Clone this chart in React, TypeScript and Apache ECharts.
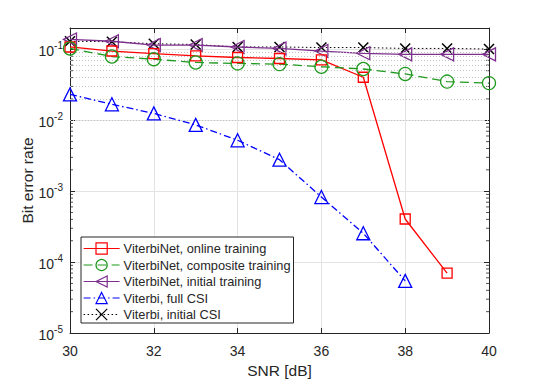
import React, { useEffect, useRef } from "react";
import * as echarts from "echarts";

const snr = [30, 31, 32, 33, 34, 35, 36, 37, 38, 39, 40];
const onlineTraining = [0.108, 0.0947, 0.0872, 0.0807, 0.0767, 0.0743, 0.071, 0.0404, 4.05e-4, 6.97e-5];
const compositeTraining = [0.103, 0.0792, 0.0726, 0.0653, 0.0633, 0.0619, 0.0568, 0.0528, 0.045, 0.0351, 0.0334];
const initialTraining = [0.138, 0.13, 0.115, 0.115, 0.108, 0.103, 0.0947, 0.088, 0.085, 0.085, 0.085];
const fullCSI = [0.0232, 0.0168, 0.0125, 0.0086, 0.00522, 0.00278, 8.26e-4, 2.55e-4, 5.44e-5];
const initialCSI = [0.13, 0.128, 0.12, 0.117, 0.108, 0.108, 0.106, 0.106, 0.103, 0.103, 0.101];

const seriesNames = [
  "ViterbiNet, online training",
  "ViterbiNet, composite training",
  "ViterbiNet, initial training",
  "Viterbi, full CSI",
  "Viterbi, initial CSI",
];
const decades = [-5, -4, -3, -2, -1];
const minorMultipliers = [2, 3, 4, 5, 6, 7, 8, 9];

const FONT = "'Liberation Sans', Arial, Helvetica, sans-serif";
const AX = "#262626";

const pair = (vals: number[]) => vals.map((v, i) => [snr[i], v]);

export default function App() {
  const ref = useRef<HTMLDivElement>(null);
  useEffect(() => {
    document.body.style.margin = "0";
    if (!ref.current) return;
    const chart = echarts.init(ref.current, undefined, { renderer: "svg" });
    const minorVals: number[] = [];
    decades.forEach((d) => {
      if (d < -1) minorMultipliers.forEach((m) => minorVals.push(m * Math.pow(10, d)));
    });

    const hollow = (c: string, bw = 1.3) => ({ color: "rgba(0,0,0,0)", borderColor: c, borderWidth: bw });

    const yLabel = (v: number) => {
      const l = Math.log10(v);
      const e = Math.round(l);
      if (Math.abs(l - e) > 1e-6) return "";
      return `{b|10}{s|${e}}`;
    };

    chart.setOption({
      animation: false,
      grid: { left: 70, right: 51, top: 28, bottom: 45, containLabel: false },
      textStyle: { fontFamily: FONT },
      legend: {
        orient: "vertical",
        left: 81,
        top: 237,
        data: seriesNames,
        itemWidth: 36,
        itemHeight: 14,
        itemGap: 3.5,
        padding: [5, 3, 2, 2],
        backgroundColor: "#ffffff",
        borderColor: AX,
        borderWidth: 1,
        borderRadius: 0,
        lineStyle: { width: 1.2 },
        itemStyle: { borderWidth: 1.2 },
        textStyle: { fontFamily: FONT, fontSize: 12.8, color: AX, padding: [0, 0, 0, -1] },
      },
      xAxis: [
        {
          type: "value",
          min: 30,
          max: 40,
          interval: 2,
          name: "SNR [dB]",
          nameLocation: "middle",
          nameGap: 29,
          nameMoveOverlap: false,
          nameTextStyle: { fontFamily: FONT, fontSize: 15.5, color: AX },
          axisLine: { show: true, lineStyle: { color: AX, width: 1 } },
          axisTick: { show: true, inside: true, length: 5, lineStyle: { color: AX } },
          axisLabel: { fontFamily: FONT, fontSize: 14, color: AX, margin: 11 },
          splitLine: { show: true, lineStyle: { color: "#e3e3e3", width: 1 } },
        },
        {
          type: "value",
          min: 30,
          max: 40,
          interval: 2,
          position: "top",
          axisLine: { show: true, onZero: false, lineStyle: { color: AX, width: 1 } },
          axisTick: { show: true, inside: true, length: 5, lineStyle: { color: AX } },
          axisLabel: { show: false },
          splitLine: { show: false },
        },
      ],
      yAxis: [
        {
          type: "log",
          logBase: 10,
          min: 1e-5,
          max: 0.2,
          name: "Bit error rate",
          nameLocation: "middle",
          nameGap: 35,
          nameMoveOverlap: false,
          nameTextStyle: { fontFamily: FONT, fontSize: 15.5, color: AX },
          axisLine: { show: true, onZero: false, lineStyle: { color: AX, width: 1 } },
          axisTick: { show: true, inside: true, length: 5, lineStyle: { color: AX } },
          axisLabel: {
            margin: 7,
            formatter: yLabel,
            rich: {
              b: { fontFamily: FONT, fontSize: 14, color: AX, lineHeight: 18, verticalAlign: "bottom" },
              s: { fontFamily: FONT, fontSize: 10, color: AX, lineHeight: 10, verticalAlign: "top" },
            },
          },
          splitLine: { show: true, lineStyle: { color: "#e3e3e3", width: 1 } },
        },
        {
          type: "log",
          logBase: 10,
          min: 1e-5,
          max: 0.2,
          position: "right",
          axisLine: { show: true, onZero: false, lineStyle: { color: AX, width: 1 } },
          axisTick: { show: true, inside: true, length: 5, lineStyle: { color: AX } },
          axisLabel: { show: false },
          splitLine: { show: false },
        },
      ],
      series: [
        {
          name: "minorLeft",
          type: "scatter",
          silent: true,
          clip: false,
          z: 1,
          symbol: "rect",
          symbolSize: [3, 1],
          symbolOffset: [1.5, 0],
          itemStyle: { color: AX },
          data: minorVals.map((v) => [30, v]),
          markLine: {
            silent: true,
            symbol: ["none", "none"],
            label: { show: false },
            lineStyle: { type: [1, 2], color: "#c4c4c4", width: 1 },
            data: minorVals.map((v) => ({ yAxis: v })),
          },
        },
        {
          name: "minorRight",
          type: "scatter",
          silent: true,
          clip: false,
          z: 1,
          symbol: "rect",
          symbolSize: [3, 1],
          symbolOffset: [-1.5, 0],
          itemStyle: { color: AX },
          data: minorVals.map((v) => [40, v]),
        },
        {
          name: seriesNames[4],
          type: "line",
          data: pair(initialCSI),
          color: "#000000",
          symbol: "path://M0,0L10,10M10,0L0,10",
          symbolSize: 10,
          lineStyle: { color: "#000000", width: 1, type: [1.5, 2.5] },
          itemStyle: hollow("#000000", 1.5),
          z: 3,
        },
        {
          name: seriesNames[2],
          type: "line",
          data: pair(initialTraining),
          color: "#7e2f8e",
          symbol: "triangle",
          symbolRotate: 90,
          symbolSize: 13,
          lineStyle: { color: "#7e2f8e", width: 1.3 },
          itemStyle: hollow("#7e2f8e"),
          z: 4,
        },
        {
          name: seriesNames[0],
          type: "line",
          data: pair(onlineTraining),
          color: "#ff0000",
          symbol: "rect",
          symbolSize: 10,
          lineStyle: { color: "#ff0000", width: 1.3 },
          itemStyle: hollow("#ff0000"),
          z: 5,
        },
        {
          name: seriesNames[1],
          type: "line",
          data: pair(compositeTraining),
          color: "#1f9a1f",
          symbol: "circle",
          symbolSize: 13,
          lineStyle: { color: "#1f9a1f", width: 1.3, type: [9, 5] },
          itemStyle: hollow("#1f9a1f"),
          z: 5,
        },
        {
          name: seriesNames[3],
          type: "line",
          data: pair(fullCSI),
          color: "#0000ff",
          symbol: "triangle",
          symbolSize: 13,
          lineStyle: { color: "#0000ff", width: 1.3, type: [7, 3, 1.5, 3] },
          itemStyle: hollow("#0000ff"),
          z: 5,
        },
      ],
    });
    return () => chart.dispose();
  }, []);
  return <div ref={ref} style={{ width: 540, height: 383 }} />;
}
